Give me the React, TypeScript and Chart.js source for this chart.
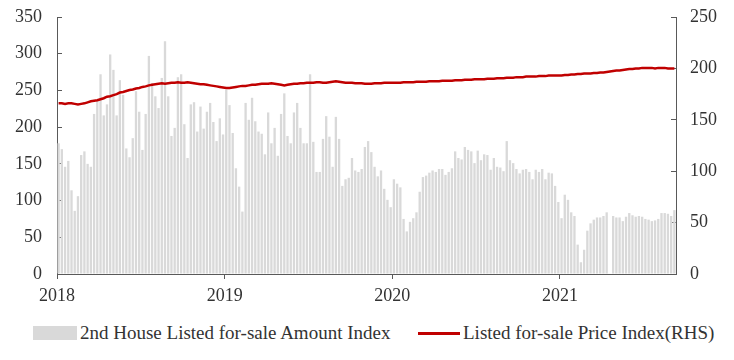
import React, { useEffect, useRef } from "react";
import { Chart, registerables } from "chart.js";

Chart.register(...registerables);

// Weekly "2nd House Listed for-sale Amount Index" (left axis)
const amount2018 = [178,170,146,154,114,86,106,162,167,150,146,218,237,272,216,231,299,278,216,264,244,171,159,185,249,221,169,218,297,260,242,226,267,317,242,188,199,268,272,204,158,231,234,194,228,198,221,233,207,181,212,190];
const amount2019 = [251,230,192,144,119,85,233,210,240,208,194,191,163,220,178,199,161,218,246,188,178,220,233,199,178,178,272,180,139,139,184,215,187,146,214,184,120,129,131,158,141,139,143,173,181,166,146,133,141,116,101,91];
const amount2020 = [129,123,118,75,58,71,76,84,112,132,134,138,141,139,143,143,135,139,144,167,158,156,173,169,167,151,168,155,163,162,142,158,146,145,140,181,155,151,143,137,142,143,139,129,142,139,143,129,138,137,120,98];
const amount2021 = [76,108,101,84,79,40,16,33,59,69,74,77,77,79,84,null,79,77,77,72,78,83,80,78,79,78,75,74,72,73,75,83,83,82,79,87];

// Weekly "Listed for-sale Price Index (RHS)"
const price2018 = [166,166,165.5,166,166,165.5,165,165.5,166,167,168,168.5,169,170,171,172.5,173,174,175,176.5,177,178,179,179.5,180.5,181,182,182.5,183.5,184,184.5,185,185.5,185,185.5,186,186,186.5,186,186,186.5,186,185.5,185,184.5,184.5,184,183.5,183,182.5,182,181.5];
const price2019 = [181,181,181.5,182,182.5,183,183,183.5,184,184,184.5,185,185,185,185.5,185,184.5,184,183.5,184,184.5,185,185,185.5,185.5,186,186,186,186.5,186.5,186,186,186.5,187,187.5,187,186.5,186,186,186,185.5,185.5,185.5,185,185,185,185.5,185.5,185.5,186,186,186];
const price2020 = [186,186,186,186.5,186.5,186.5,186.5,187,187,187,187,187.5,187.5,187.5,187.5,188,188,188,188,188.5,188.5,188.5,189,189,189,189.5,189.5,189.5,189.5,190,190,190,190.5,190.5,190.5,191,191,191,191.5,191.5,191.5,192,192,192,192,192.5,192.5,192.5,193,193,193,193];
const price2021 = [193,193.5,193.5,194,194,194.5,194.5,195,195,195,195.5,195.5,196,196,196.5,197,197.5,198,198,198.5,199,199.5,199.5,200,200,200.5,200.5,200.5,200.5,200,200.5,200.5,200.5,200,200,200];

const yearLabels = ["2018", "2019", "2020", "2021"];
const yearStartWeeks = [0, 52, 104, 156];

const amountValues = [...amount2018, ...amount2019, ...amount2020, ...amount2021];
const priceValues = [...price2018, ...price2019, ...price2020, ...price2021];
const weekLabels = amountValues.map((_, i) => `W${i + 1}`);

const leftTicks = { min: 0, max: 350, step: 50 };
const rightTicks = { min: 0, max: 250, step: 50 };

const FONT = "'Liberation Serif', 'Times New Roman', serif";
const AXIS = "#595959";
const TEXT = "#333333";
const BAR = "#d9d9d9";
const RED = "#c00000";

export default function App() {
  const ref = useRef<HTMLCanvasElement | null>(null);

  useEffect(() => {
    if (!ref.current) return;
    const font = { family: FONT, size: 18 };
    const chart = new Chart(ref.current, {
      type: "bar",
      data: {
        labels: weekLabels,
        datasets: [
          {
            type: "line",
            label: "Listed for-sale Price Index(RHS)",
            data: priceValues,
            yAxisID: "y1",
            xAxisID: "x",
            borderColor: RED,
            backgroundColor: RED,
            borderWidth: 2.5,
            pointRadius: 0,
            tension: 0,
            order: 0,
          },
          {
            type: "bar",
            label: "2nd House Listed for-sale Amount Index",
            data: amountValues,
            yAxisID: "y",
            xAxisID: "x",
            backgroundColor: BAR,
            categoryPercentage: 1,
            barPercentage: 0.72,
            order: 1,
          },
        ],
      },
      options: {
        responsive: false,
        animation: false,
        layout: { padding: { top: 17, left: 0, right: 0, bottom: 0 } },
        plugins: { legend: { display: false }, tooltip: { enabled: false } },
        scales: {
          x: {
            type: "category",
            display: false,
            offset: true,
          },
          xYear: {
            type: "linear",
            position: "bottom",
            offset: false,
            min: 0,
            max: amountValues.length,
            afterBuildTicks: (s: any) => {
              s.ticks = yearStartWeeks.map((v) => ({ value: v }));
            },
            afterFit: (s: any) => {
              s.height = 44;
              s.paddingLeft = 0;
              s.paddingRight = 0;
            },
            ticks: {
              autoSkip: false,
              maxRotation: 0,
              padding: 6,
              color: TEXT,
              font,
              callback: (v: any) => {
                const idx = yearStartWeeks.indexOf(Number(v));
                return idx >= 0 ? yearLabels[idx] : "";
              },
            },
            grid: { drawOnChartArea: false, offset: false, tickLength: 5, color: AXIS },
            border: { color: AXIS, width: 1 },
          },
          y: {
            position: "left",
            min: leftTicks.min,
            max: leftTicks.max,
            afterFit: (s: any) => {
              s.width = 57;
              s.paddingTop = 0;
              s.paddingBottom = 0;
            },
            ticks: { stepSize: leftTicks.step, padding: 20, color: TEXT, font },
            grid: { drawOnChartArea: false, tickLength: -5, color: AXIS },
            border: { color: AXIS, width: 1 },
          },
          y1: {
            position: "right",
            min: rightTicks.min,
            max: rightTicks.max,
            afterFit: (s: any) => {
              s.width = 58;
              s.paddingTop = 0;
              s.paddingBottom = 0;
            },
            ticks: { stepSize: rightTicks.step, padding: 19, color: TEXT, font },
            grid: { drawOnChartArea: false, tickLength: -5, color: AXIS },
            border: { color: AXIS, width: 1 },
          },
        },
      },
    } as any);
    return () => chart.destroy();
  }, []);

  const legendText: React.CSSProperties = {
    fontFamily: FONT,
    fontSize: 19,
    color: TEXT,
    whiteSpace: "nowrap",
  };

  return (
    <div style={{ position: "absolute", left: 0, top: 0, width: 734, height: 360, background: "#fff" }}>
      <canvas ref={ref} width={734} height={318} style={{ display: "block" }} />
      <div style={{ position: "absolute", top: 322, left: 33, display: "flex", alignItems: "center", ...legendText }}>
        <span style={{ display: "inline-block", width: 44, height: 14, background: BAR, marginRight: 3 }} />
        <span>2nd House Listed for-sale Amount Index</span>
      </div>
      <div style={{ position: "absolute", top: 322, left: 418, display: "flex", alignItems: "center", ...legendText }}>
        <span style={{ display: "inline-block", width: 42, height: 3, background: RED, marginRight: 3 }} />
        <span>Listed for-sale Price Index(RHS)</span>
      </div>
    </div>
  );
}
